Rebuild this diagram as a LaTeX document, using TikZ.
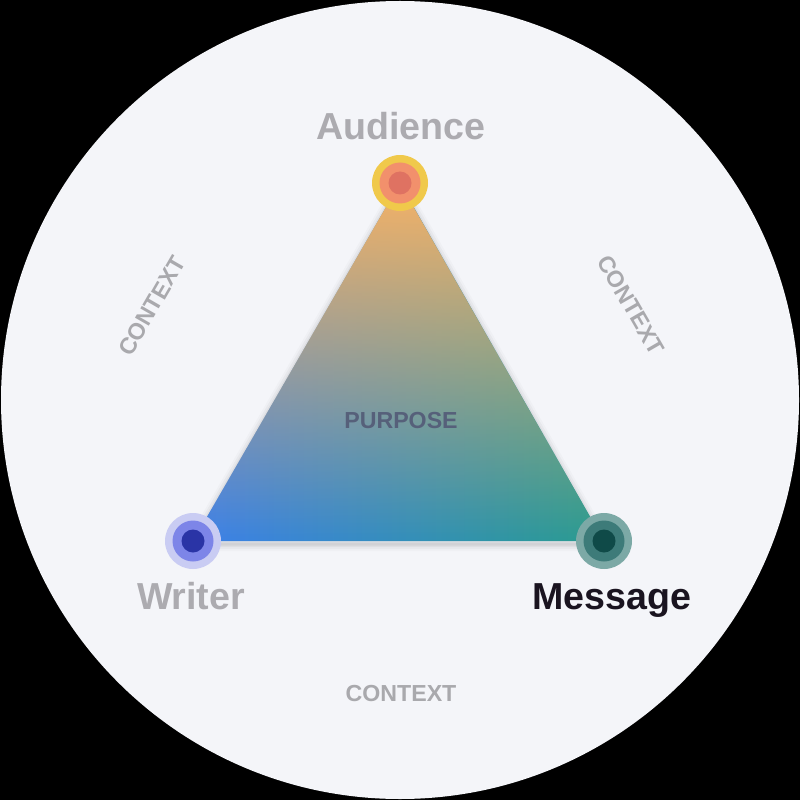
\documentclass[tikz,border=0pt]{standalone}
\usepackage{fontspec}
\setmainfont{Liberation Sans}
\usetikzlibrary{fadings}
\definecolor{bgc}{HTML}{F4F5F9}
\definecolor{tblue}{HTML}{3D80EA}
\definecolor{tteal}{HTML}{2A9C8E}
\definecolor{torange}{HTML}{F7B266}
\definecolor{lblgray}{HTML}{ACABB0}
\definecolor{ctxgray}{HTML}{A9A9AD}
\definecolor{purp}{HTML}{56607A}
\definecolor{msgc}{HTML}{1A1420}
\definecolor{aO}{HTML}{F0C94B}
\definecolor{aM}{HTML}{F2906C}
\definecolor{aI}{HTML}{DF7262}
\definecolor{wO}{HTML}{C9CCF3}
\definecolor{wM}{HTML}{7D85E8}
\definecolor{wI}{HTML}{2A34A6}
\definecolor{mO}{HTML}{7CA9A6}
\definecolor{mM}{HTML}{3D7B79}
\definecolor{mI}{HTML}{0F4A48}
\tikzfading[name=fadedown, top color=transparent!0, bottom color=transparent!100]
\tikzset{
  biglbl/.style={font=\bfseries\fontsize{21.4}{24}\selectfont, inner sep=0pt, anchor=base},
  ctx/.style={font=\bfseries\fontsize{13.2}{15}\selectfont, text=ctxgray, inner sep=0pt},
  dotnode/.style={circle, inner sep=0pt, minimum size=1.12cm},
}
\begin{document}
\begin{tikzpicture}[x=0.02cm,y=-0.02cm]
\fill[black] (0,0) rectangle (800,800);
\useasboundingbox (0,0) rectangle (800,800);
\fill[bgc] (400,400) circle (399);
\coordinate (A) at (400,183);
\coordinate (W) at (193,541);
\coordinate (M) at (604,541);
% soft shadow
\foreach \w/\o in {14/0.02,10/0.03,6/0.04,3/0.05}{
  \draw[black, opacity=\o, line width=\w*0.02cm, line join=round] ([yshift=-0.06cm]W) -- ([yshift=-0.06cm]A) -- ([yshift=-0.06cm]M) -- cycle;
}
\shade[left color=tblue, right color=tteal] (W) -- (A) -- (M) -- cycle;
\fill[torange, path fading=fadedown] (W) -- (A) -- (M) -- cycle;
\node[ctx, text=purp, anchor=base] (purpose) at (401,428) {PURPOSE};
% vertex dots
\node[dotnode, fill=aO] (aud) at (A) {};
\fill[aM] (A) circle (20.5);
\fill[aI] (A) circle (11.5);
\node[dotnode, fill=wO] (wri) at (W) {};
\fill[wM] (W) circle (20.5);
\fill[wI] (W) circle (11.5);
\node[dotnode, fill=mO] (msg) at (M) {};
\fill[mM] (M) circle (20.5);
\fill[mI] (M) circle (11.5);
% labels
\node[biglbl, text=lblgray] (audl) at (401,140) {Audience};
\node[biglbl, text=lblgray] (wril) at (191,609) {Writer};
\node[biglbl, text=msgc] (msgl) at (612,609) {Message};
\node[ctx, anchor=base] (ctxb) at (401,701) {CONTEXT};
\node[ctx, rotate=60] (ctxl) at (152,306) {CONTEXT};
\node[ctx, rotate=-60] (ctxr) at (631,305) {CONTEXT};
\end{tikzpicture}
\end{document}
